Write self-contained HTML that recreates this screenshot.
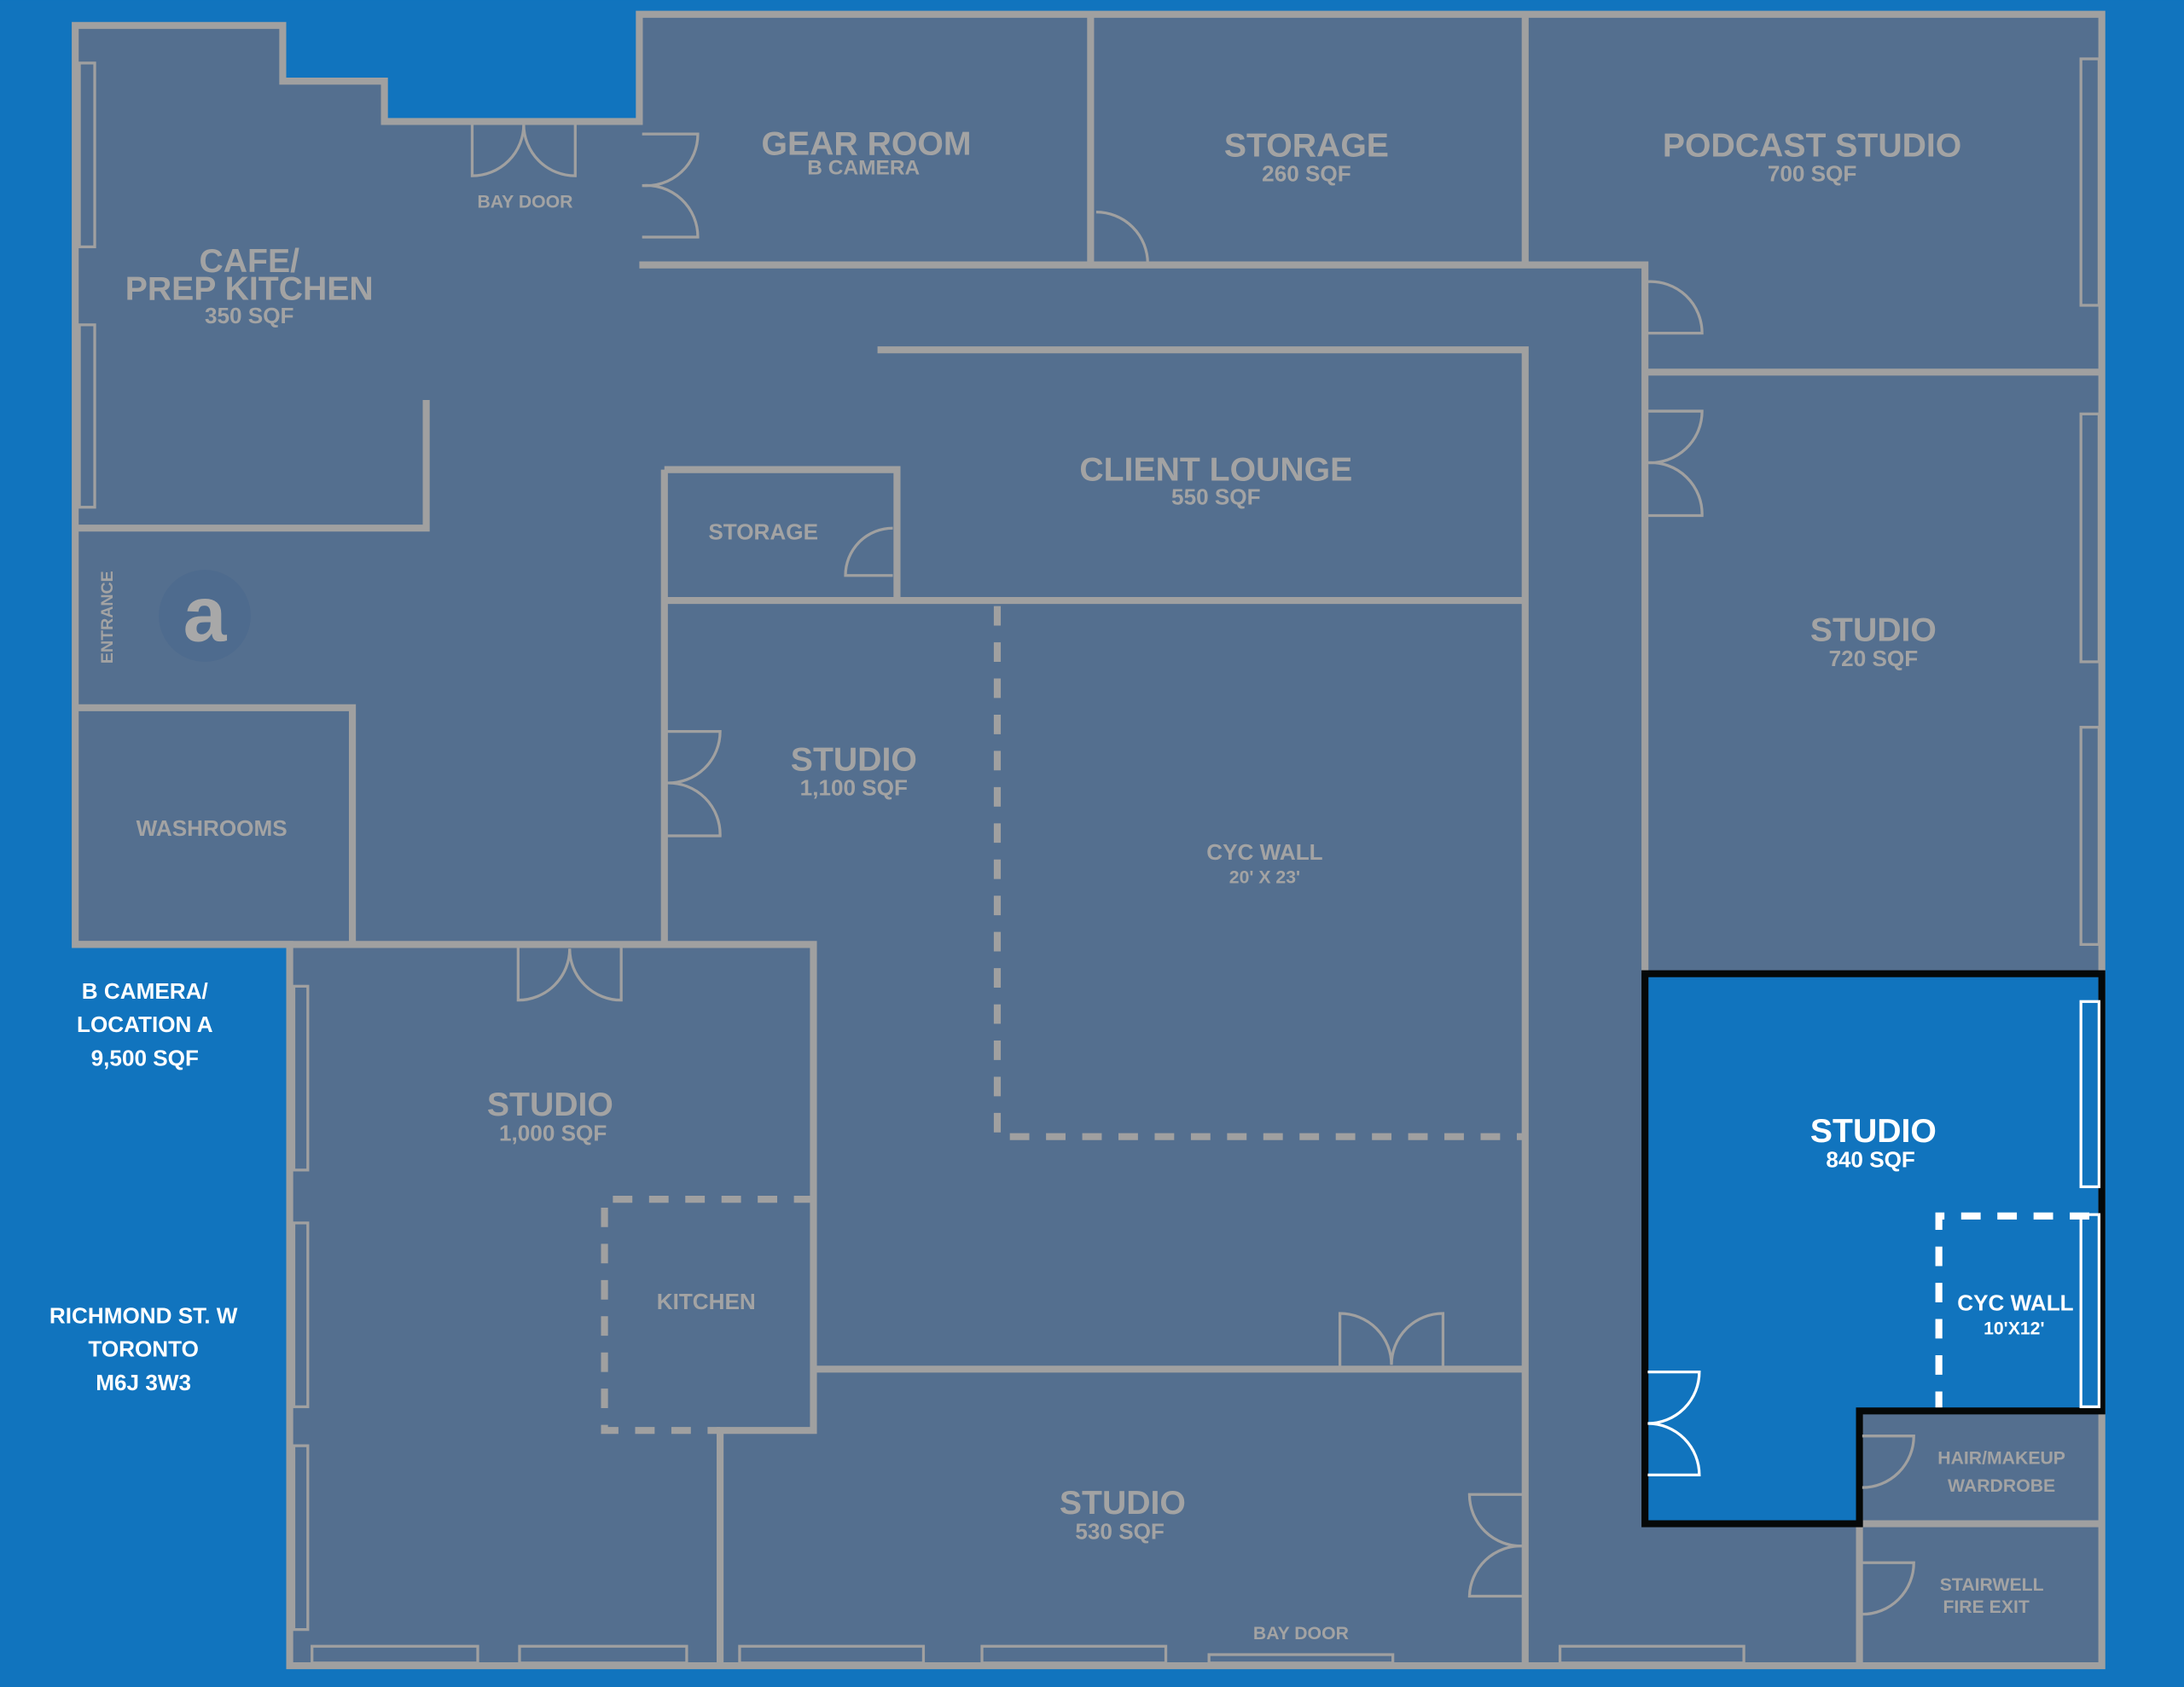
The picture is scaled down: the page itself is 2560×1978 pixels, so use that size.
<!DOCTYPE html>
<html><head><meta charset="utf-8"><style>
html,body{margin:0;padding:0;background:#1174BE;}
svg{display:block;}
text{font-family:"Liberation Sans",sans-serif;font-weight:bold;text-anchor:middle;}
</style></head><body>
<svg width="2560" height="1978" viewBox="0 0 1568 1211" xmlns="http://www.w3.org/2000/svg">
<rect width="1568" height="1211" fill="#1174BE"/>
<polygon points="54,18 203,18 203,58 276,58 276,87 459,87 459,10 1509,10 1509,1196 208,1196 208,678 54,678" fill="#546F8F"/>
<polygon points="1181,699 1509,699 1509,1013 1335,1013 1335,1094 1181,1094" fill="#1174BE"/>
<g fill="none" stroke="#A0A0A0" stroke-width="5">
<polygon points="54,18 203,18 203,58 276,58 276,87 459,87 459,10 1509,10 1509,1196 208,1196 208,678 54,678"/>
<path d="M459,190H1181V699M783,10V190M1095,10V190M1181,267H1509"/>
<path d="M306,287V379H54"/>
<path d="M630,251H1095V1196M477,431H1095M477,337H644V431M477,337V678"/>
<path d="M54,508H253V678M54,678H584V1027H517V1196M584,983H1095"/>
<path d="M1335,1013V1196M1335,1094H1509"/>
</g>
<g fill="none" stroke="#A0A0A0" stroke-width="5" stroke-dasharray="14,12">
<path d="M716,435V816H1095"/>
<path d="M584,861H434V1027H517"/>
</g>
<path d="M1392,1013V873H1507" fill="none" stroke="#fff" stroke-width="5" stroke-dasharray="14,12"/>
<polygon points="1181,699 1509,699 1509,1013 1335,1013 1335,1094 1181,1094" fill="none" stroke="#050808" stroke-width="5"/>
<g fill="none" stroke="#A0A0A0" stroke-width="2">
<rect x="57" y="45" width="11" height="132"/><rect x="57" y="233" width="11" height="131"/>
<rect x="211" y="708" width="10" height="132"/><rect x="211" y="878" width="10" height="132"/><rect x="211" y="1038" width="10" height="132"/>
<rect x="224" y="1182" width="119" height="12"/><rect x="373" y="1182" width="120" height="12"/><rect x="531" y="1182" width="132" height="12"/><rect x="705" y="1182" width="132" height="12"/><rect x="868" y="1188" width="132" height="6"/><rect x="1120" y="1182" width="132" height="12"/>
<rect x="1494" y="42" width="13" height="177"/><rect x="1494" y="297" width="13" height="178"/><rect x="1494" y="522" width="13" height="156"/>
<path d="M339,89V126A37,37 0 0 0 376,89M413,89V126A37,37 0 0 1 376,89"/>
<path d="M461,96H501A37,37 0 0 1 461,133M461,170H501A37,37 0 0 0 461,133"/>
<path d="M787,152A37,37 0 0 1 824,189"/>
<path d="M1183,239H1222A37,37 0 0 0 1183,202"/>
<path d="M1183,295H1222A37,37 0 0 1 1183,332M1183,370H1222A37,37 0 0 0 1183,332"/>
<path d="M641,413H607A34,34 0 0 1 641,379"/>
<path d="M479,525H517A37,37 0 0 1 479,562M479,600H517A37,37 0 0 0 479,562"/>
<path d="M372,680V718A37,37 0 0 0 409,681M446,680V718A37,37 0 0 1 409,681"/>
<path d="M962,981V943A37,37 0 0 1 999,980M1036,981V943A37,37 0 0 0 999,980"/>
<path d="M1093,1073H1055A37,37 0 0 0 1093,1110M1093,1146H1055A37,37 0 0 1 1093,1110"/>
<path d="M1337,1031H1374A37,37 0 0 1 1337,1068M1337,1122H1374A37,37 0 0 1 1337,1159"/>
</g>
<g fill="none" stroke="#fff" stroke-width="2">
<rect x="1494" y="719" width="13" height="133"/><rect x="1494" y="872" width="13" height="138"/>
<path d="M1183,985H1220A37,37 0 0 1 1183,1022M1183,1059H1220A37,37 0 0 0 1183,1022"/>
</g>
<circle cx="147" cy="442" r="33" fill="#4E6B8E"/>
<text x="147" y="460" font-size="56" fill="#A8A8A8">a</text>
<g fill="#A3A3A3">
<text x="622" y="111" font-size="24">GEAR ROOM</text><text x="620" y="125" font-size="15">B CAMERA</text>
<text x="938" y="112" font-size="24">STORAGE</text><text x="938" y="130" font-size="16">260 SQF</text>
<text x="1301" y="112" font-size="24">PODCAST STUDIO</text><text x="1301" y="130" font-size="16">700 SQF</text>
<text x="179" y="195" font-size="24">CAFE/</text><text x="179" y="215" font-size="24">PREP KITCHEN</text><text x="179" y="232" font-size="16">350 SQF</text>
<text x="377" y="149" font-size="13">BAY DOOR</text>
<text x="873" y="345" font-size="24">CLIENT LOUNGE</text><text x="873" y="362" font-size="16">550 SQF</text>
<text x="548" y="387" font-size="16">STORAGE</text>
<text transform="translate(81,443) rotate(-90)" font-size="12">ENTRANCE</text>
<text x="613" y="553" font-size="24">STUDIO</text><text x="613" y="571" font-size="16">1,100 SQF</text>
<text x="908" y="617" font-size="16">CYC WALL</text><text x="908" y="634" font-size="13">20' X 23'</text>
<text x="1345" y="460" font-size="24">STUDIO</text><text x="1345" y="478" font-size="16">720 SQF</text>
<text x="152" y="600" font-size="16">WASHROOMS</text>
<text x="395" y="801" font-size="24">STUDIO</text><text x="397" y="819" font-size="16">1,000 SQF</text>
<text x="507" y="940" font-size="16">KITCHEN</text>
<text x="806" y="1087" font-size="24">STUDIO</text><text x="804" y="1105" font-size="16">530 SQF</text>
<text x="934" y="1177" font-size="13">BAY DOOR</text>
<text x="1437" y="1051" font-size="13">HAIR/MAKEUP</text><text x="1437" y="1071" font-size="13">WARDROBE</text>
<text x="1430" y="1142" font-size="13">STAIRWELL</text><text x="1426" y="1158" font-size="13">FIRE EXIT</text>
</g>
<g fill="#FFFFFF">
<text x="104" y="717" font-size="16">B CAMERA/</text><text x="104" y="741" font-size="16">LOCATION A</text><text x="104" y="765" font-size="16">9,500 SQF</text>
<text x="103" y="950" font-size="16">RICHMOND ST. W</text><text x="103" y="974" font-size="16">TORONTO</text><text x="103" y="998" font-size="16">M6J 3W3</text>
<text x="1345" y="820" font-size="24">STUDIO</text><text x="1343" y="838" font-size="16">840 SQF</text>
<text x="1447" y="941" font-size="16">CYC WALL</text><text x="1446" y="958" font-size="13">10'X12'</text>
</g>
</svg>
</body></html>
